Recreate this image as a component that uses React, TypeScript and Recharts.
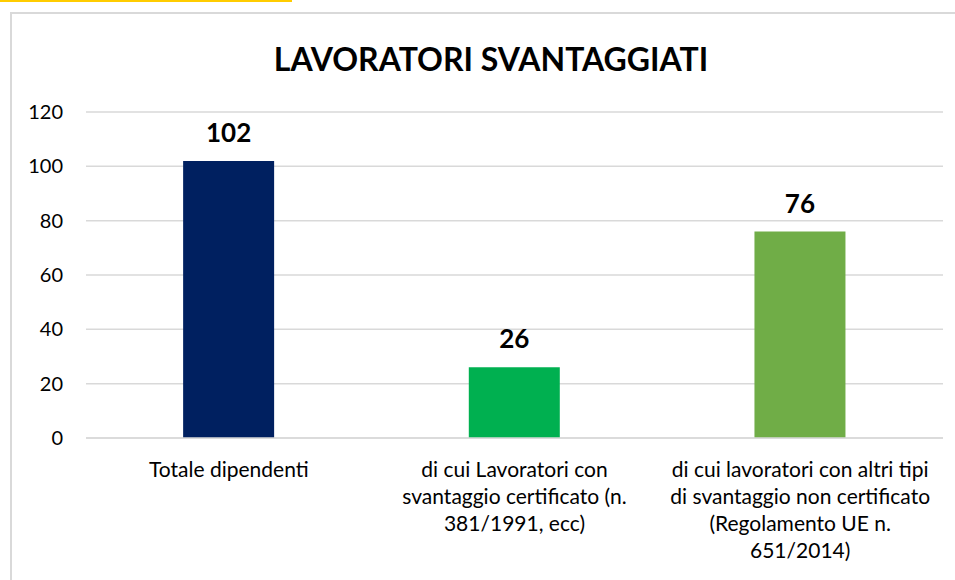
import React from 'react';
import { BarChart, Bar, XAxis, YAxis, CartesianGrid, Cell, LabelList } from 'recharts';

const categories = [
  ['Totale dipendenti'],
  ['di cui Lavoratori con', 'svantaggio certificato (n.', '381/1991, ecc)'],
  ['di cui lavoratori con altri tipi', 'di svantaggio non certificato', '(Regolamento UE n.', '651/2014)'],
];
const values = [102, 26, 76];
const barColors = ['#002060', '#00B050', '#70AD47'];
const yTicks = [0, 20, 40, 60, 80, 100, 120];

const data = categories.map((lines, i) => ({ name: lines.join(' '), idx: i, value: values[i] }));

const FONT = 'Lato, "Noto Sans", sans-serif';

const XTick = (props: any) => {
  const { x, y, payload } = props;
  const lines = categories[payload.index] || [payload.value];
  return (
    <text x={x} y={y} textAnchor="middle" fill="#000" fontSize={21} fontFamily={FONT}>
      {lines.map((l: string, i: number) => (
        <tspan key={i} x={x} dy={i === 0 ? 31 : 27}>{l}</tspan>
      ))}
    </text>
  );
};

const YTick = (props: any) => {
  const { y, payload } = props;
  return (
    <text x={63} y={y} dy={7} textAnchor="end" fill="#000" fontSize={20} fontFamily={FONT}>
      {payload.value}
    </text>
  );
};

export default function App() {
  return (
    <div style={{ position: 'absolute', left: 0, top: 0, width: 955, height: 580, background: '#fff', overflow: 'hidden' }}>
      <div style={{ position: 'absolute', left: 0, top: 0, width: 292, height: 2, background: '#FFCC00' }} />
      <div style={{ position: 'absolute', left: 10, top: 12, width: 960, height: 600, border: '2px solid #d9d9d9' }} />
      <div
        style={{
          position: 'absolute', left: 0, top: 39, width: 982, textAlign: 'center',
          fontFamily: FONT, fontWeight: 'bold', fontSize: 32, color: '#000',
        }}
      >
        LAVORATORI SVANTAGGIATI
      </div>
      <div style={{ position: 'absolute', left: 0, top: 0 }}>
        <BarChart width={955} height={580} data={data} margin={{ top: 112, right: 12, left: 0, bottom: 112 }} barCategoryGap="34%">
          <CartesianGrid vertical={false} stroke="#d9d9d9" strokeWidth={1.5} />
          <XAxis dataKey="name" height={30} axisLine={{ stroke: '#d9d9d9', strokeWidth: 1.5 }} tickLine={false} tick={<XTick />} interval={0} />
          <YAxis width={86} domain={[0, 120]} ticks={yTicks} axisLine={false} tickLine={false} tick={<YTick />} />
          <Bar dataKey="value" isAnimationActive={false}>
            {data.map((d, i) => (
              <Cell key={`cell-${i}`} fill={barColors[i]} />
            ))}
            <LabelList dataKey="value" position="top" offset={19} fill="#000" fontSize={26} fontWeight="bold" fontFamily={FONT} />
          </Bar>
        </BarChart>
      </div>
    </div>
  );
}
